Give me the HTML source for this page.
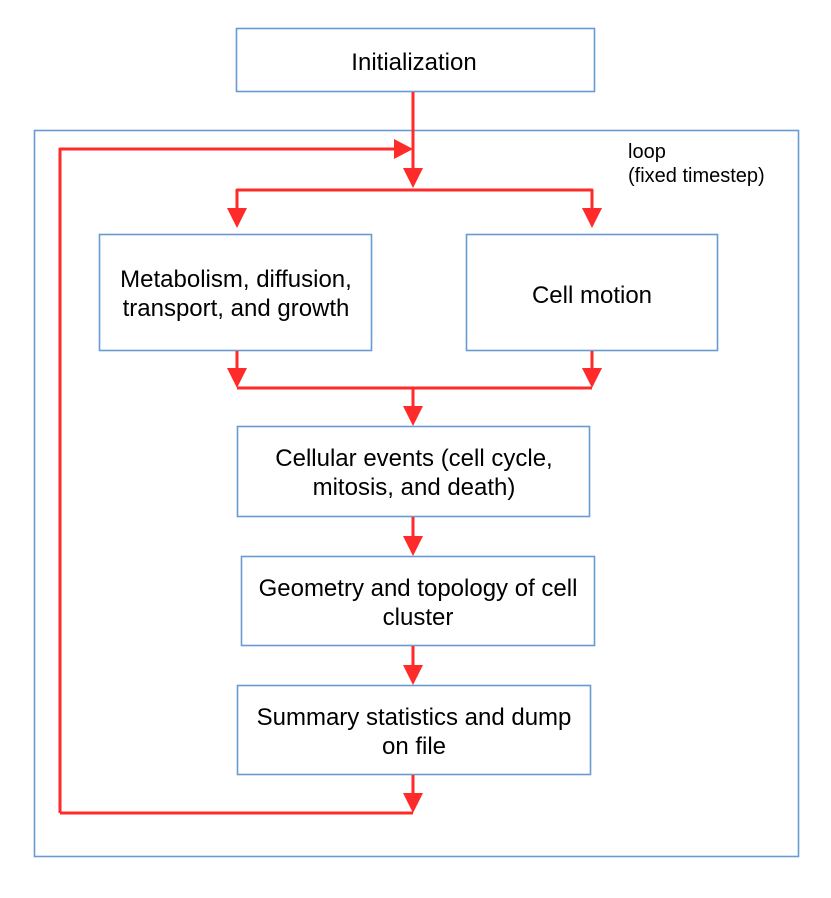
<!DOCTYPE html>
<html><head><style>body{margin:0;background:#fff}text{font-family:"Liberation Sans",Arial,sans-serif}</style></head><body>
<svg width="831" height="893" xmlns="http://www.w3.org/2000/svg">
<g fill="none" stroke="#6a9bd0" stroke-width="1.6">
<rect x="34.5" y="130.5" width="764" height="726"/>
<rect x="236.5" y="28.5" width="358" height="63"/>
<rect x="99.5" y="234.5" width="272" height="116"/>
<rect x="466.5" y="234.5" width="251" height="116"/>
<rect x="237.5" y="426.5" width="352" height="90"/>
<rect x="241.5" y="556.5" width="353" height="89"/>
<rect x="237.5" y="685.5" width="353" height="89"/>
</g>
<g fill="none" stroke="#ff2a2a" stroke-width="3" stroke-linejoin="round">
<path d="M413,92 V172"/>
<path d="M60,813 V149 H398"/>
<path d="M237,214 V190 H592 V214"/>
<path d="M237,351 V374"/>
<path d="M592,351 V374"/>
<path d="M237,388 H592"/>
<path d="M413,388 V412"/>
<path d="M413,517 V541"/>
<path d="M413,646 V671"/>
<path d="M413,775 V799"/>
<path d="M60,813 H413"/>
</g>
<g fill="#ff2a2a">
<polygon points="413,149 394,139 394,159"/>
<polygon points="403,168 423,168 413,188"/>
<polygon points="227,208 247,208 237,228"/>
<polygon points="582,208 602,208 592,228"/>
<polygon points="227,368 247,368 237,388"/>
<polygon points="582,368 602,368 592,388"/>
<polygon points="403,406 423,406 413,426"/>
<polygon points="403,536 423,536 413,556"/>
<polygon points="403,665 423,665 413,685"/>
<polygon points="403,793 423,793 413,813"/>
</g>
<g font-size="24" fill="#000" text-anchor="middle">
<text x="414" y="70">Initialization</text>
<text x="236" y="287">Metabolism, diffusion,</text>
<text x="236" y="316">transport, and growth</text>
<text x="592" y="303">Cell motion</text>
<text x="414" y="466">Cellular events (cell cycle,</text>
<text x="414" y="495">mitosis, and death)</text>
<text x="418" y="596">Geometry and topology of cell</text>
<text x="418" y="625">cluster</text>
<text x="414" y="725">Summary statistics and dump</text>
<text x="414" y="754">on file</text>
</g>
<g font-size="20" fill="#000">
<text x="628" y="158">loop</text>
<text x="628" y="182">(fixed timestep)</text>
</g>
</svg>
</body></html>
